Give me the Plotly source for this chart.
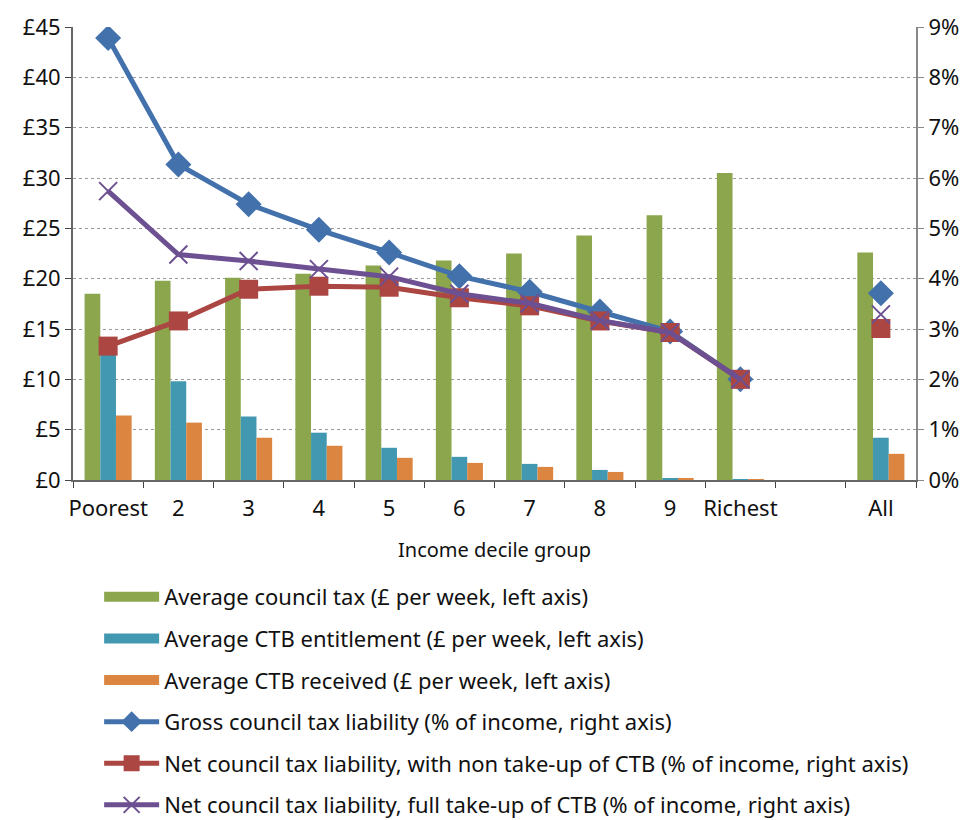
import plotly.graph_objects as go

categories = ["Poorest", "2", "3", "4", "5", "6", "7", "8", "9", "Richest", " ", "All"]

council_tax = [18.5, 19.8, 20.1, 20.5, 21.3, 21.8, 22.5, 24.3, 26.3, 30.5, None, 22.6]
ctb_entitlement = [12.9, 9.8, 6.3, 4.7, 3.2, 2.3, 1.6, 1.0, 0.2, 0.05, None, 4.2]
ctb_received = [6.4, 5.7, 4.2, 3.4, 2.2, 1.7, 1.3, 0.8, 0.1, 0.02, None, 2.6]

gross_liability = [8.78, 6.27, 5.48, 4.97, 4.52, 4.05, 3.74, 3.35, 2.95, 2.0, None, 3.71]
net_non_takeup = [2.66, 3.16, 3.79, 3.85, 3.83, 3.62, 3.46, 3.16, 2.93, 2.0, None, 3.01]
net_full_takeup = [5.74, 4.48, 4.35, 4.19, 4.04, 3.70, 3.51, 3.17, 2.93, 2.0, None, 3.29]

bar_names = ["Average council tax (£ per week, left axis)",
             "Average CTB entitlement (£ per week, left axis)",
             "Average CTB received (£ per week, left axis)"]
line_names = ["Gross council tax liability (% of income, right axis)",
              "Net council tax liability, with non take-up of CTB (% of income, right axis)",
              "Net council tax liability, full take-up of CTB (% of income, right axis)"]
bar_colors = ["#8ba64d", "#4298b0", "#db8540"]

fig = go.Figure()

for i, vals in enumerate([council_tax, ctb_entitlement, ctb_received]):
    fig.add_trace(go.Bar(x=categories, y=vals, name=bar_names[i], marker_color=bar_colors[i],
                         marker_line_width=0, showlegend=False))
    # wide rectangle swatch for the legend, like the original
    fig.add_trace(go.Scatter(x=[None], y=[None], mode="lines", name=bar_names[i],
                             line=dict(color=bar_colors[i], width=14), legendgroup=str(i)))

line_styles = [
    (gross_liability, "#4271ac", dict(symbol="diamond", size=20)),
    (net_non_takeup, "#ab4642", dict(symbol="square", size=19)),
    (net_full_takeup, "#6c5091", dict(symbol="x-thin-open", size=18, line=dict(width=2, color="#6c5091"))),
]
for i, (vals, col, mk) in enumerate(line_styles):
    fig.add_trace(go.Scatter(x=categories, y=vals, name=line_names[i], yaxis="y2",
                             mode="lines+markers", line=dict(color=col, width=5),
                             marker=dict(color=col, **mk), legendgroup=str(i + 3)))

txt_font = dict(family="Noto Sans, sans-serif", size=22, color="#111")

fig.update_layout(
    width=973, height=820,
    margin=dict(l=65, r=65, t=19, b=348, autoexpand=False),
    plot_bgcolor="white", paper_bgcolor="white",
    font=txt_font,
    barmode="group", bargap=0.33, bargroupgap=0,
    showlegend=True,
    legend=dict(orientation="v", x=0.031, xanchor="left", y=-0.212, yanchor="top",
                traceorder="grouped", tracegroupgap=10, itemwidth=55,
                font=dict(family="Noto Sans, sans-serif", size=22, color="#111")),
    xaxis=dict(title=dict(text="Income decile group", standoff=22, font=dict(size=20)),
               range=[-0.5, 11.5],
               showline=True, linecolor="#666", linewidth=2, tickangle=0, automargin=False,
               ticks="outside", tickson="boundaries", ticklen=6, tickcolor="#444",
               ticklabelstandoff=8, showgrid=False),
    yaxis=dict(range=[0, 45], dtick=5, tickprefix="£", showline=True, linecolor="#666",
               linewidth=2, ticks="outside", ticklen=6, tickcolor="#444", automargin=False,
               showgrid=True, gridcolor="#999", griddash="dot", gridwidth=1,
               zeroline=False),
    yaxis2=dict(range=[0, 9], dtick=1, ticksuffix="%", overlaying="y", side="right",
                showline=True, linecolor="#888", linewidth=2, ticks="outside", automargin=False,
                ticklen=6, tickcolor="#888", showgrid=False, zeroline=False),
)

fig.write_html("out.html")
